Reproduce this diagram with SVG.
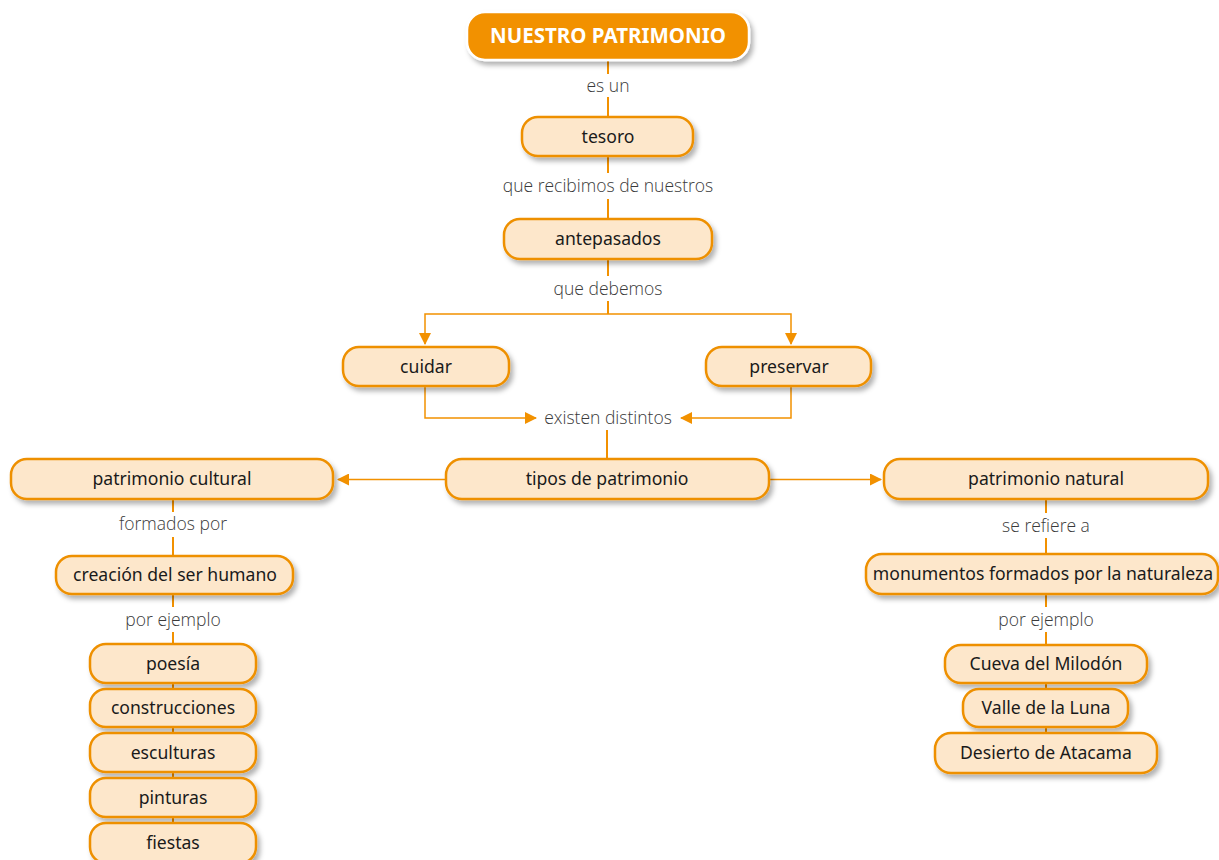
<svg xmlns="http://www.w3.org/2000/svg" width="1219" height="860" viewBox="0 0 1219 860">
<defs>
<filter id="sh" x="-10%" y="-30%" width="130%" height="180%">
<feDropShadow dx="3" dy="4" stdDeviation="2.5" flood-color="#000" flood-opacity="0.3"/>
</filter>
<marker id="ah" viewBox="0 0 12 12" refX="11" refY="6" markerWidth="12" markerHeight="12" markerUnits="userSpaceOnUse" orient="auto">
<path d="M0,0 L12,6 L0,12 Z" fill="#F29100"/>
</marker>
<style>
.n rect{fill:#FDE7CB;stroke:#EE9000;stroke-width:2.5;filter:url(#sh)}
.n text{font-family:"Noto Sans","Open Sans","Liberation Sans",sans-serif;font-size:17.6px;fill:#1a1a1a;text-anchor:middle}
.lb{font-family:"Open Sans","Noto Sans","Liberation Sans",sans-serif;font-weight:300;font-size:17.5px;fill:#3a3a3a;text-anchor:middle}
.c path,.c line{stroke:#F29100;stroke-width:2;fill:none}
.c .t{stroke-width:1.5}
</style>
</defs>
<rect width="1219" height="860" fill="#fff"/>
<g class="c">
<line x1="608" y1="60" x2="608" y2="74"/>
<line x1="608" y1="97" x2="608" y2="117"/>
<line x1="608" y1="156" x2="608" y2="173"/>
<line x1="608" y1="199" x2="608" y2="219"/>
<line x1="608" y1="259" x2="608" y2="276"/>
<line x1="608" y1="301" x2="608" y2="314"/>
<path class="t" d="M608,314 H425 V344" marker-end="url(#ah)"/>
<path class="t" d="M608,314 H791 V344" marker-end="url(#ah)"/>
<path class="t" d="M425,386 V418 H536" marker-end="url(#ah)"/>
<path class="t" d="M791,386 V418 H681" marker-end="url(#ah)"/>
<line x1="607" y1="430" x2="607" y2="459"/>
<path class="t" d="M446,479.5 H338" marker-end="url(#ah)"/>
<path class="t" d="M769,479.5 H881" marker-end="url(#ah)"/>
<line x1="173" y1="499" x2="173" y2="512"/>
<line x1="173" y1="537" x2="173" y2="556"/>
<line x1="173" y1="594" x2="173" y2="607"/>
<line x1="173" y1="632" x2="173" y2="644"/>
<line x1="173" y1="683" x2="173" y2="823"/>
<line x1="1046" y1="499" x2="1046" y2="513"/>
<line x1="1046" y1="538" x2="1046" y2="554"/>
<line x1="1046" y1="594" x2="1046" y2="607"/>
<line x1="1046" y1="632" x2="1046" y2="645"/>
<line x1="1046" y1="683" x2="1046" y2="733"/>
</g>
<text class="lb" x="608" y="92">es un</text>
<text class="lb" x="608" y="192">que recibimos de nuestros</text>
<text class="lb" x="608" y="295">que debemos</text>
<text class="lb" x="608" y="424">existen distintos</text>
<text class="lb" x="173" y="530">formados por</text>
<text class="lb" x="173" y="626">por ejemplo</text>
<text class="lb" x="1046" y="532">se refiere a</text>
<text class="lb" x="1046" y="626">por ejemplo</text>
<g id="nuestro-patrimonio">
<rect x="467" y="12" width="282" height="48" rx="18" fill="#F29100" stroke="#fff" stroke-width="2.5" filter="url(#sh)"/>
<text x="608" y="43" font-family="'Noto Sans','Open Sans','Liberation Sans',sans-serif" font-weight="bold" font-size="20.5" fill="#fff" text-anchor="middle">NUESTRO PATRIMONIO</text>
</g>
<g id="tesoro" class="n"><rect x="522" y="117" width="171" height="39" rx="16"/><text x="608" y="143">tesoro</text></g>
<g id="antepasados" class="n"><rect x="504" y="219" width="208" height="40" rx="16"/><text x="608" y="245">antepasados</text></g>
<g id="cuidar" class="n"><rect x="343" y="347" width="166" height="39" rx="16"/><text x="426" y="373">cuidar</text></g>
<g id="preservar" class="n"><rect x="706" y="347" width="165" height="39" rx="16"/><text x="789" y="373">preservar</text></g>
<g id="tipos" class="n"><rect x="446" y="459" width="323" height="40" rx="16"/><text x="607" y="485">tipos de patrimonio</text></g>
<g id="cultural" class="n"><rect x="11" y="459" width="322" height="40" rx="16"/><text x="172" y="485">patrimonio cultural</text></g>
<g id="natural" class="n"><rect x="884" y="459" width="324" height="40" rx="16"/><text x="1046" y="485">patrimonio natural</text></g>
<g id="creacion" class="n"><rect x="56" y="556" width="237" height="38" rx="16"/><text x="175" y="581">creación del ser humano</text></g>
<g id="monumentos" class="n"><rect x="866" y="554" width="352" height="40" rx="16"/><text x="1043" y="580">monumentos formados por la naturaleza</text></g>
<g id="poesia" class="n"><rect x="90" y="644" width="166" height="39" rx="16"/><text x="173" y="670">poesía</text></g>
<g id="construcciones" class="n"><rect x="90" y="689" width="166" height="38" rx="16"/><text x="173" y="714">construcciones</text></g>
<g id="esculturas" class="n"><rect x="90" y="733" width="166" height="39" rx="16"/><text x="173" y="759">esculturas</text></g>
<g id="pinturas" class="n"><rect x="90" y="778" width="166" height="39" rx="16"/><text x="173" y="804">pinturas</text></g>
<g id="fiestas" class="n"><rect x="90" y="823" width="166" height="40" rx="16"/><text x="173" y="849">fiestas</text></g>
<g id="cueva" class="n"><rect x="945" y="645" width="202" height="38" rx="16"/><text x="1046" y="670">Cueva del Milodón</text></g>
<g id="valle" class="n"><rect x="963" y="689" width="165" height="38" rx="16"/><text x="1046" y="714">Valle de la Luna</text></g>
<g id="desierto" class="n"><rect x="935" y="733" width="222" height="40" rx="16"/><text x="1046" y="759">Desierto de Atacama</text></g>
</svg>
